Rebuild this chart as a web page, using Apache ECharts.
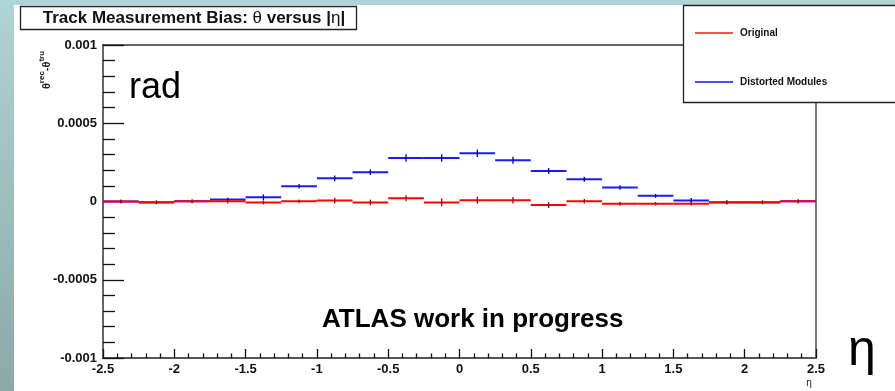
<!DOCTYPE html>
<html>
<head>
<meta charset="utf-8">
<script src="https://cdn.jsdelivr.net/npm/echarts@6/dist/echarts.min.js"></script>
<style>
  html, body { margin: 0; padding: 0; }
  #chart { width: 895px; height: 391px; }
</style>
</head>
<body>
<div id="chart"></div>
<script>
// eta bins (lower / upper edges)
const etaLow  = [-2.5, -2.25, -2.0, -1.75, -1.5, -1.25, -1.0, -0.75, -0.5, -0.25, 0.0, 0.25, 0.5, 0.75, 1.0, 1.25, 1.5, 1.75, 2.0, 2.25];
const etaHigh = [-2.25, -2.0, -1.75, -1.5, -1.25, -1.0, -0.75, -0.5, -0.25, 0.0, 0.25, 0.5, 0.75, 1.0, 1.25, 1.5, 1.75, 2.0, 2.25, 2.5];

// mean theta bias (rad) per bin and its uncertainty
const originalBias = [0.000000, -0.000006, 0.000001, 0.000001, -0.000006, 0.000001, 0.000006, -0.000006, 0.000021, -0.000006,
                      0.000008, 0.000008, -0.000023, 0.000001, -0.000014, -0.000014, -0.000014, -0.000006, -0.000006, 0.000001];
const originalErr  = [0.000005, 0.000005, 0.000006, 0.000008, 0.000006, 0.000005, 0.000012, 0.000012, 0.000012, 0.000018,
                      0.000016, 0.000014, 0.000012, 0.000008, 0.000006, 0.000005, 0.000005, 0.000005, 0.000005, 0.000005];
const distortedBias = [0.000000, -0.000005, 0.000002, 0.000012, 0.000027, 0.000098, 0.000148, 0.000187, 0.000278, 0.000278,
                       0.000308, 0.000263, 0.000195, 0.000142, 0.000089, 0.000036, 0.000006, -0.000005, -0.000005, 0.000001];
const distortedErr  = [0.000005, 0.000005, 0.000005, 0.000006, 0.000012, 0.000008, 0.000012, 0.000012, 0.000018, 0.000018,
                       0.000018, 0.000016, 0.000012, 0.000010, 0.000008, 0.000006, 0.000010, 0.000006, 0.000005, 0.000005];

// axis tick labels
const xTickLabels = { '-2.5': '-2.5', '-2': '-2', '-1.5': '-1.5', '-1': '-1', '-0.5': '-0.5', '0': '0', '0.5': '0.5', '1': '1', '1.5': '1.5', '2': '2', '2.5': '2.5' };
const yTickLabels = { '-0.001': '-0.001', '-0.0005': '-0.0005', '0': '0', '0.0005': '0.0005', '0.001': '0.001' };

function rows(values, errors) {
  return etaLow.map((lo, i) => [lo, etaHigh[i], values[i], errors[i]]);
}

// one horizontal segment per bin plus a vertical error bar at the bin centre
function binRenderer(lineColor, barColor) {
  return function (params, api) {
    const lo = api.value(0), hi = api.value(1), v = api.value(2), e = api.value(3);
    const mid = (lo + hi) / 2;
    const a = api.coord([lo, v]);
    const b = api.coord([hi, v]);
    const t = api.coord([mid, v + e]);
    const d = api.coord([mid, v - e]);
    return {
      type: 'group',
      children: [
        { type: 'line', shape: { x1: a[0], y1: a[1], x2: b[0], y2: b[1] }, style: { stroke: lineColor, lineWidth: 2 } },
        { type: 'line', shape: { x1: t[0], y1: t[1] - 1, x2: d[0], y2: d[1] + 1 }, style: { stroke: barColor, lineWidth: 1.3 } }
      ]
    };
  };
}

const chart = echarts.init(document.getElementById('chart'), null, { renderer: 'canvas' });
const FONT = '"Liberation Sans", Arial, Helvetica, sans-serif';

chart.setOption({
  animation: false,
  textStyle: { fontFamily: FONT },
  grid: { left: 103, right: 79, top: 45, bottom: 33 },
  xAxis: [{
    type: 'value', min: -2.5, max: 2.5, interval: 0.5,
    axisLine: { show: true, onZero: false, lineStyle: { color: '#555', width: 2 } },
    axisTick: { show: true, inside: true, length: 9, lineStyle: { color: '#111', width: 1.3 } },
    minorTick: { show: true, splitNumber: 5, length: 4.5, lineStyle: { color: '#111', width: 1.3 } },
    splitLine: { show: false },
    axisLabel: { margin: 5, fontSize: 13, fontWeight: 'bold', color: '#111', fontFamily: FONT,
      formatter: v => xTickLabels[String(Math.round(v * 10) / 10)] ?? '' }
  }, {
    type: 'value', min: -2.5, max: 2.5, position: 'top',
    axisLine: { show: true, onZero: false, lineStyle: { color: '#333', width: 1.5 } },
    axisTick: { show: false }, axisLabel: { show: false }, splitLine: { show: false }
  }],
  yAxis: [{
    type: 'value', min: -0.001, max: 0.001, interval: 0.0005,
    axisLine: { show: true, onZero: false, lineStyle: { color: '#666', width: 2 } },
    axisTick: { show: true, inside: true, length: 21, lineStyle: { color: '#111', width: 1.3 } },
    minorTick: { show: true, splitNumber: 5, length: 12, lineStyle: { color: '#111', width: 1.3 } },
    splitLine: { show: false },
    axisLabel: { margin: 6, fontSize: 13, fontWeight: 'bold', color: '#111', fontFamily: FONT,
      formatter: v => yTickLabels[String(Math.round(v * 10000) / 10000)] ?? '' }
  }, {
    type: 'value', min: -0.001, max: 0.001, position: 'right',
    axisLine: { show: true, onZero: false, lineStyle: { color: '#777', width: 2 } },
    axisTick: { show: false }, axisLabel: { show: false }, splitLine: { show: false }
  }],
  legend: {
    data: ['Original', 'Distorted Modules'],
    orient: 'vertical', left: 690, top: 23, itemGap: 39,
    itemWidth: 38, itemHeight: 1.5, icon: 'rect', z: 60,
    textStyle: { fontSize: 10, fontWeight: 'bold', color: '#111', fontFamily: FONT, padding: [0, 0, 0, 2] }
  },
  series: [{
    name: 'Distorted Modules', type: 'custom',
    itemStyle: { color: '#1414ff' },
    renderItem: binRenderer('#1a1aff', '#0000a0'),
    encode: { x: [0, 1], y: 2 },
    data: rows(distortedBias, distortedErr), clip: false, z: 3
  }, {
    name: 'Original', type: 'custom',
    itemStyle: { color: '#ff1010' },
    renderItem: binRenderer('#ff0000', '#a00000'),
    encode: { x: [0, 1], y: 2 },
    data: rows(originalBias, originalErr), clip: false, z: 4
  }],
  graphic: [
    // slide background with the white drawing panel
    { type: 'rect', z: -20, silent: true, shape: { x: 0, y: 0, width: 895, height: 391 },
      style: { fill: new echarts.graphic.LinearGradient(0, 0, 0, 1, [
        { offset: 0, color: '#afd4d6' }, { offset: 1, color: '#8da8a7' }]) } },
    { type: 'rect', z: -19, silent: true, shape: { x: 14, y: 5, width: 881, height: 386 }, style: { fill: '#ffffff' } },
    // title box
    { type: 'rect', z: 50, shape: { x: 20.5, y: 6.5, width: 336, height: 23 }, style: { fill: '#fff', stroke: '#222', lineWidth: 1.3 } },
    { type: 'text', z: 51, x: 194, y: 18.5, style: {
      text: '{b|Track Measurement Bias: }{s|θ}{b| versus |}{s|η}{b||}',
      align: 'center', verticalAlign: 'middle',
      rich: { b: { fontSize: 17, fontWeight: 'bold', fontFamily: FONT, fill: '#111' },
              s: { fontSize: 17, fontFamily: FONT, fill: '#111' } } } },
    // legend box
    { type: 'rect', z: 50, shape: { x: 683.5, y: 5.5, width: 230, height: 97 }, style: { fill: '#fff', stroke: '#222', lineWidth: 1.3 } },
    // y axis title
    { type: 'text', z: 51, x: 45, y: 70, rotation: Math.PI / 2, style: {
      text: '{m|θ}{u|rec}{m|-θ}{u|tru}', align: 'center', verticalAlign: 'middle',
      rich: { m: { fontSize: 11, fontWeight: 'bold', fontFamily: FONT, fill: '#222', verticalAlign: 'bottom', lineHeight: 14 },
              u: { fontSize: 8, fontWeight: 'bold', fontFamily: FONT, fill: '#222', verticalAlign: 'top', lineHeight: 14 } } } },
    // unit annotation
    { type: 'text', z: 51, x: 129, y: 88, style: { text: 'rad', fontSize: 36, fontFamily: FONT, fill: '#000', verticalAlign: 'middle' } },
    { type: 'text', z: 51, x: 322, y: 320, style: { text: 'ATLAS work in progress', fontSize: 26, fontWeight: 'bold', fontFamily: FONT, fill: '#000', verticalAlign: 'middle' } },
    // axis names
    { type: 'text', z: 51, x: 809, y: 383, style: { text: 'η', fontSize: 10, fontFamily: FONT, fill: '#222', align: 'center', verticalAlign: 'middle' } },
    { type: 'text', z: 51, x: 862, y: 351, style: { text: 'η', fontSize: 50, fontFamily: FONT, fill: '#000', align: 'center', verticalAlign: 'middle' } }
  ]
});
</script>
</body>
</html>
